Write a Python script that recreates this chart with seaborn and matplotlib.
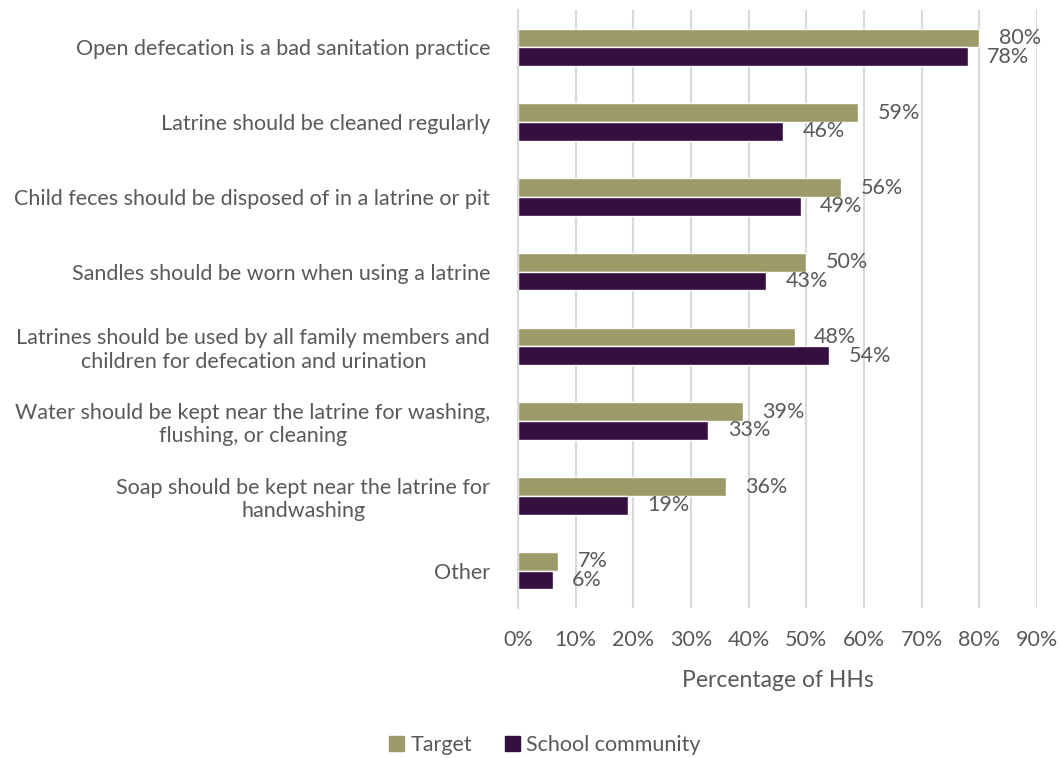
import matplotlib
matplotlib.use("Agg")
import matplotlib.pyplot as plt
import seaborn as sns
import pandas as pd
from matplotlib.patches import Patch

categories = [
    "Open defecation is a bad sanitation practice",
    "Latrine should be cleaned regularly",
    "Child feces should be disposed of in a latrine or pit",
    "Sandles should be worn when using a latrine",
    "Latrines should be used by all family members and\nchildren for defecation and urination",
    "Water should be kept near the latrine for washing,\nflushing, or cleaning",
    "Soap should be kept near the latrine for\nhandwashing",
    "Other",
]
target = [80, 59, 56, 50, 48, 39, 36, 7]
school = [78, 46, 49, 43, 54, 33, 19, 6]
series = ["Target", "School community"]
xticks = [0, 10, 20, 30, 40, 50, 60, 70, 80, 90]

colors = {"Target": "#9b9a68", "School community": "#350f40"}
text_color = "#595959"

df = pd.DataFrame({
    "category": categories * 2,
    "value": target + school,
    "series": [series[0]] * len(categories) + [series[1]] * len(categories),
})

sns.set_theme(style="white")
plt.rcParams["font.family"] = ["Lato", "DejaVu Sans"]

fig = plt.figure(figsize=(10.62, 7.58), dpi=100)
ax = fig.add_axes([518 / 1062, 1 - 608 / 758, 519 / 1062, 598 / 758])

sns.barplot(data=df, y="category", x="value", hue="series", order=categories,
            hue_order=series, palette=colors, orient="h", width=0.5,
            dodge=True, ax=ax, legend=False, saturation=1)

fs = 15.5
ax.set_xlim(0, 90)
ax.set_xticks(xticks)
ax.set_xticklabels([f"{t}%" for t in xticks], fontsize=fs, color=text_color)
ax.tick_params(axis="y", labelsize=fs, labelcolor=text_color, length=0, pad=20)
ax.tick_params(axis="x", length=0, pad=16)
for lbl in ax.get_yticklabels():
    lbl.set_multialignment("center")
ax.grid(axis="x", color="#d9d9d9", linewidth=1.5)
ax.set_axisbelow(True)
for s in ["top", "right", "bottom"]:
    ax.spines[s].set_visible(False)
ax.spines["left"].set_color("#d9d9d9")
ax.spines["left"].set_linewidth(1.5)
ax.set_ylabel("")
ax.set_xlabel("Percentage of HHs", fontsize=16.5, color=text_color, labelpad=14)

for cont in ax.containers:
    ax.bar_label(cont, labels=[f"{v:.0f}%" for v in cont.datavalues],
                 padding=14, fontsize=fs, color=text_color)

handles = [Patch(color=colors[s], label=s) for s in series]
fig.legend(handles=handles, loc="center", bbox_to_anchor=(545 / 1062, 1 - 745 / 758),
           ncol=2, frameon=False, fontsize=fs, handlelength=0.7, handleheight=0.7,
           columnspacing=1.5, handletextpad=0.3, labelcolor=text_color)

fig.savefig("out.png", dpi=100)
